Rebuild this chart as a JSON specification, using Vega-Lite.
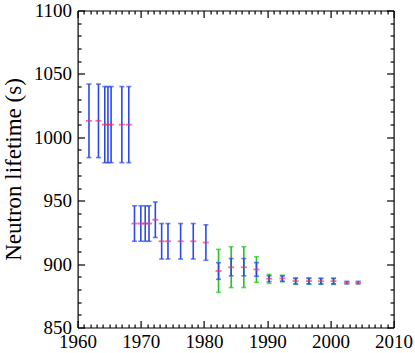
{
  "$schema": "https://vega.github.io/schema/vega-lite/v6.json",
  "width": 316,
  "height": 317,
  "autosize": "none",
  "padding": {"left": 77.6, "top": 10.5, "right": 21.4, "bottom": 25.5},
  "datasets": {
    "blue": [
      {"year": 1961.8, "tau": 1013, "lo": 984, "hi": 1042},
      {"year": 1963.3, "tau": 1013, "lo": 984, "hi": 1042},
      {"year": 1964.3, "tau": 1010, "lo": 980, "hi": 1040},
      {"year": 1964.8, "tau": 1010, "lo": 980, "hi": 1040},
      {"year": 1965.3, "tau": 1010, "lo": 980, "hi": 1040},
      {"year": 1967.0, "tau": 1010, "lo": 980, "hi": 1040},
      {"year": 1968.1, "tau": 1010, "lo": 980, "hi": 1040},
      {"year": 1969.0, "tau": 932, "lo": 918, "hi": 946},
      {"year": 1970.0, "tau": 932, "lo": 918, "hi": 946},
      {"year": 1970.7, "tau": 932, "lo": 918, "hi": 946},
      {"year": 1971.3, "tau": 932, "lo": 918, "hi": 946},
      {"year": 1972.3, "tau": 935, "lo": 921, "hi": 949},
      {"year": 1973.3, "tau": 918, "lo": 904, "hi": 932},
      {"year": 1974.3, "tau": 918, "lo": 904, "hi": 932},
      {"year": 1976.3, "tau": 918, "lo": 904, "hi": 932},
      {"year": 1978.3, "tau": 918, "lo": 904, "hi": 932},
      {"year": 1980.3, "tau": 917, "lo": 903, "hi": 931},
      {"year": 1982.3, "tau": 894.6, "lo": 888, "hi": 901.1},
      {"year": 1984.3, "tau": 897.5, "lo": 890.8, "hi": 904.4},
      {"year": 1986.3, "tau": 897.5, "lo": 890.8, "hi": 904.4},
      {"year": 1988.3, "tau": 895.8, "lo": 890.4, "hi": 901.2},
      {"year": 1990.3, "tau": 888.5, "lo": 886.2, "hi": 890.8},
      {"year": 1992.4, "tau": 888.7, "lo": 886.5, "hi": 890.7},
      {"year": 1994.5, "tau": 886.6, "lo": 884.4, "hi": 888.7},
      {"year": 1996.6, "tau": 886.6, "lo": 884.4, "hi": 888.7},
      {"year": 1998.5, "tau": 886.5, "lo": 884.4, "hi": 888.6},
      {"year": 2000.5, "tau": 886.5, "lo": 884.4, "hi": 888.6},
      {"year": 2002.6, "tau": 885.4, "lo": 884.3, "hi": 886.4},
      {"year": 2004.4, "tau": 885.4, "lo": 884.3, "hi": 886.4}
    ],
    "green": [
      {"year": 1982.3, "lo": 877.7, "hi": 911.6},
      {"year": 1984.3, "lo": 881.5, "hi": 913.7},
      {"year": 1986.3, "lo": 881.5, "hi": 913.7},
      {"year": 1988.3, "lo": 885.6, "hi": 905.8},
      {"year": 1990.3, "lo": 884.8, "hi": 891.9},
      {"year": 1992.4, "lo": 886.0, "hi": 891.2},
      {"year": 1994.5, "lo": 884.0, "hi": 889.2},
      {"year": 1996.6, "lo": 884.0, "hi": 889.2},
      {"year": 1998.5, "lo": 884.0, "hi": 889.0},
      {"year": 2000.5, "lo": 884.0, "hi": 889.0}
    ]
  },
  "layer": [
    {
      "data": {"name": "green"},
      "mark": {"type": "rule", "color": "#22c522", "strokeWidth": 1.6},
      "encoding": {
        "x": {"field": "year", "type": "quantitative", "scale": {"domain": [1960, 2010], "nice": false, "zero": false},
          "axis": {"orient": "bottom", "values": [1960, 1970, 1980, 1990, 2000, 2010], "ticks": false, "domain": true, "labelPadding": 5, "title": null, "format": "d", "labelFont": "Times New Roman", "labelFontSize": 19}},
        "y": {"field": "lo", "type": "quantitative", "scale": {"domain": [850, 1100], "nice": false, "zero": false},
          "axis": {"orient": "left", "values": [850, 900, 950, 1000, 1050, 1100], "ticks": false, "domain": true, "labelPadding": 6, "format": "d", "labelFont": "Times New Roman", "labelFontSize": 19, "title": "Neutron lifetime (s)", "titleFont": "Liberation Serif", "titleFontSize": 23, "titlePadding": 8, "titleFontWeight": "normal"}},
        "y2": {"field": "hi"}
      }
    },
    {
      "data": {"name": "green"},
      "mark": {"type": "tick", "orient": "horizontal", "color": "#22c522", "size": 5, "thickness": 1.6},
      "encoding": {
        "x": {"field": "year", "type": "quantitative",
          "axis": {"orient": "top", "values": [1960, 1970, 1980, 1990, 2000, 2010], "labels": false, "tickSize": -7, "domain": true, "title": null}},
        "y": {"field": "hi", "type": "quantitative",
          "axis": {"orient": "right", "values": [850, 900, 950, 1000, 1050, 1100], "labels": false, "tickSize": -7, "domain": true, "title": null}}
      }
    },
    {
      "data": {"name": "green"},
      "mark": {"type": "tick", "orient": "horizontal", "color": "#22c522", "size": 5, "thickness": 1.6},
      "encoding": {
        "x": {"field": "year", "type": "quantitative",
          "axis": {"orient": "bottom", "values": [1960, 1970, 1980, 1990, 2000, 2010], "labels": false, "tickSize": -7, "domain": false, "title": null}},
        "y": {"field": "lo", "type": "quantitative",
          "axis": {"orient": "left", "values": [850, 900, 950, 1000, 1050, 1100], "labels": false, "tickSize": -7, "domain": false, "title": null}}
      }
    },
    {
      "data": {"name": "blue"},
      "mark": {"type": "rule", "color": "#2a48ee", "strokeWidth": 1.6},
      "encoding": {
        "x": {"field": "year", "type": "quantitative",
          "axis": {"orient": "bottom", "values": [1961,1962,1963,1964,1965,1966,1967,1968,1969,1971,1972,1973,1974,1975,1976,1977,1978,1979,1981,1982,1983,1984,1985,1986,1987,1988,1989,1991,1992,1993,1994,1995,1996,1997,1998,1999,2001,2002,2003,2004,2005,2006,2007,2008,2009], "labels": false, "tickSize": -3.5, "domain": false, "title": null}},
        "y": {"field": "lo", "type": "quantitative",
          "axis": {"orient": "left", "values": [860,870,880,890,910,920,930,940,960,970,980,990,1010,1020,1030,1040,1060,1070,1080,1090], "labels": false, "tickSize": -3.5, "domain": false, "title": null}},
        "y2": {"field": "hi"}
      }
    },
    {
      "data": {"name": "blue"},
      "mark": {"type": "tick", "orient": "horizontal", "color": "#2a48ee", "size": 5, "thickness": 1.6},
      "encoding": {
        "x": {"field": "year", "type": "quantitative",
          "axis": {"orient": "top", "values": [1961,1962,1963,1964,1965,1966,1967,1968,1969,1971,1972,1973,1974,1975,1976,1977,1978,1979,1981,1982,1983,1984,1985,1986,1987,1988,1989,1991,1992,1993,1994,1995,1996,1997,1998,1999,2001,2002,2003,2004,2005,2006,2007,2008,2009], "labels": false, "tickSize": -3.5, "domain": false, "title": null}},
        "y": {"field": "hi", "type": "quantitative",
          "axis": {"orient": "right", "values": [860,870,880,890,910,920,930,940,960,970,980,990,1010,1020,1030,1040,1060,1070,1080,1090], "labels": false, "tickSize": -3.5, "domain": false, "title": null}}
      }
    },
    {
      "data": {"name": "blue"},
      "mark": {"type": "tick", "orient": "horizontal", "color": "#2a48ee", "size": 5, "thickness": 1.6},
      "encoding": {
        "x": {"field": "year", "type": "quantitative", "axis": null},
        "y": {"field": "lo", "type": "quantitative", "axis": null}
      }
    },
    {
      "data": {"name": "blue"},
      "mark": {"type": "tick", "orient": "horizontal", "color": "#f2336f", "size": 6, "thickness": 1.8},
      "encoding": {
        "x": {"field": "year", "type": "quantitative", "axis": null},
        "y": {"field": "tau", "type": "quantitative", "axis": null}
      }
    }
  ],
  "resolve": {"axis": {"x": "independent", "y": "independent"}},
  "config": {
    "font": "Liberation Serif",
    "view": {"stroke": null},
    "axis": {
      "grid": false,
      "labelColor": "black",
      "titleColor": "black",
      "domainColor": "black",
      "domainWidth": 1.2,
      "tickColor": "black",
      "tickWidth": 1.2,
      "labelOverlap": false,
      "labelFlush": false
    }
  }
}
